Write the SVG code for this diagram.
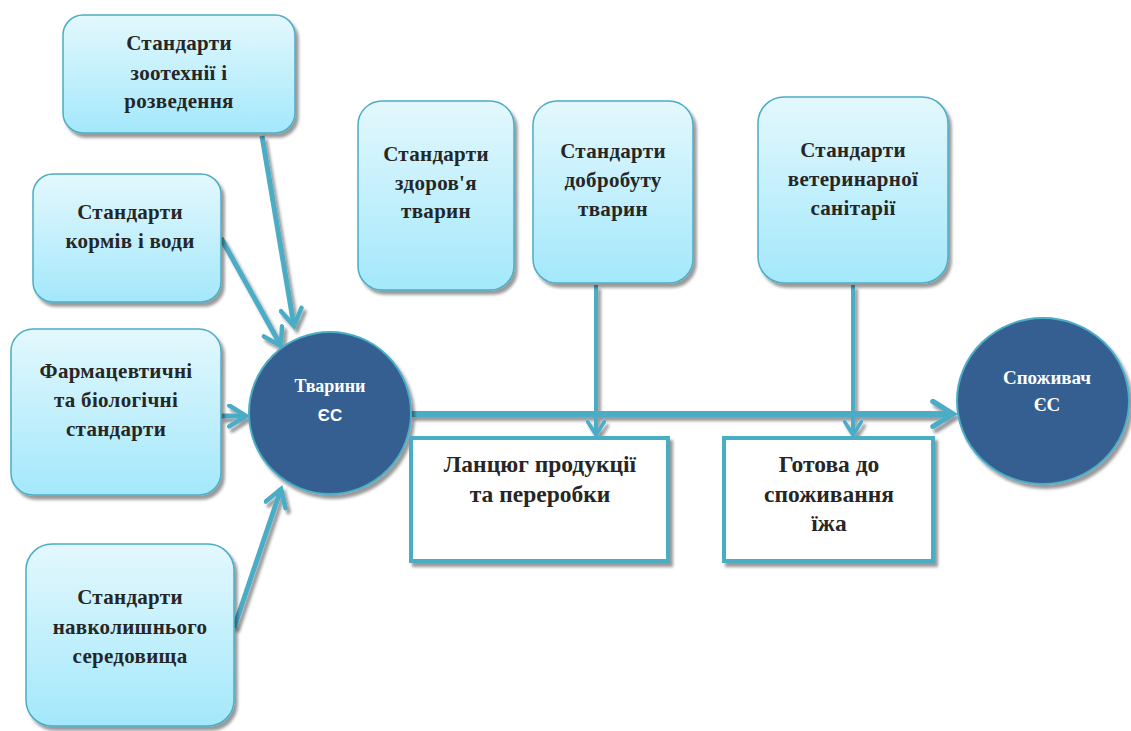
<svg xmlns="http://www.w3.org/2000/svg" width="1131" height="731" viewBox="0 0 1131 731">
<defs>
<linearGradient id="g" x1="0" y1="0" x2="0" y2="1">
<stop offset="0" stop-color="#e3f8fd"/>
<stop offset="1" stop-color="#a3e8fb"/>
</linearGradient>
<filter id="sh" x="-10%" y="-10%" width="130%" height="130%">
<feDropShadow dx="3" dy="4" stdDeviation="1.5" flood-color="#000" flood-opacity="0.4"/>
</filter>
<marker id="ah" viewBox="0 0 12 12" refX="10" refY="6" markerWidth="5" markerHeight="5" orient="auto" markerUnits="strokeWidth">
<path d="M2,1 L10,6 L2,11" fill="none" stroke="#4bacc6" stroke-width="2.2" stroke-linecap="round" stroke-linejoin="miter"/>
</marker>
<style>
.box{fill:url(#g);stroke:#4bacc6;stroke-width:1.5;filter:url(#sh)}
.t{font-family:"Liberation Serif","Times New Roman",serif;font-weight:bold;font-size:21px;letter-spacing:0.3px;fill:#262626;text-anchor:middle}
.tb{font-family:"Liberation Serif","Times New Roman",serif;font-weight:bold;font-size:23.5px;fill:#262626;text-anchor:middle}
.circ{fill:#355f91;stroke:#4bacc6;stroke-width:2;filter:url(#sh)}
.ct{font-family:"Liberation Serif","Times New Roman",serif;font-weight:bold;font-size:18px;fill:#ffffff;text-anchor:middle}
.cs{font-family:"Liberation Sans",Arial,sans-serif;font-weight:bold;font-size:17px;fill:#ffffff;text-anchor:middle}
.rect{fill:#ffffff;stroke:#4bacc6;stroke-width:4;filter:url(#sh)}
.c{fill:none;stroke:#4bacc6;stroke-width:5;marker-end:url(#ah)}
</style>
</defs>
<rect width="1131" height="731" fill="#ffffff"/>

<g id="connectors" filter="url(#sh)">
<line class="c" x1="262" y1="136" x2="294" y2="326"/>
<line class="c" x1="221" y1="238" x2="281" y2="346"/>
<line class="c" x1="221" y1="416" x2="246" y2="416"/>
<line class="c" x1="234" y1="628" x2="281" y2="489"/>
<line class="c" x1="411" y1="414" x2="953" y2="414" style="stroke-width:6"/>
<line class="c" x1="596" y1="285" x2="596" y2="435" style="stroke-width:4"/>
<line class="c" x1="853" y1="285" x2="853" y2="435" style="stroke-width:4"/>
</g>

<g id="n-zoo">
<rect class="box" x="63" y="15" width="232" height="118" rx="20"/>
<text class="t" x="179" y="50">Стандарти</text>
<text class="t" x="179" y="80">зоотехнії і</text>
<text class="t" x="179" y="108">розведення</text>
</g>
<g id="n-feed">
<rect class="box" x="33" y="174" width="188" height="128" rx="20"/>
<text class="t" x="130" y="219">Стандарти</text>
<text class="t" x="130" y="248">кормів і води</text>
</g>
<g id="n-pharma">
<rect class="box" x="11" y="329" width="210" height="166" rx="22"/>
<text class="t" x="116" y="378">Фармацевтичні</text>
<text class="t" x="116" y="407">та біологічні</text>
<text class="t" x="116" y="436">стандарти</text>
</g>
<g id="n-env">
<rect class="box" x="26" y="544" width="208" height="182" rx="26"/>
<text class="t" x="130" y="604">Стандарти</text>
<text class="t" x="130" y="634">навколишнього</text>
<text class="t" x="130" y="663">середовища</text>
</g>
<g id="n-health">
<rect class="box" x="358" y="101" width="156" height="189" rx="24"/>
<text class="t" x="436" y="161">Стандарти</text>
<text class="t" x="436" y="190">здоров'я</text>
<text class="t" x="436" y="218">тварин</text>
</g>
<g id="n-welfare">
<rect class="box" x="533" y="101" width="160" height="182" rx="24"/>
<text class="t" x="613" y="158">Стандарти</text>
<text class="t" x="613" y="187">добробуту</text>
<text class="t" x="613" y="216">тварин</text>
</g>
<g id="n-vet">
<rect class="box" x="758" y="97" width="190" height="186" rx="26"/>
<text class="t" x="853" y="157">Стандарти</text>
<text class="t" x="853" y="186">ветеринарної</text>
<text class="t" x="853" y="215">санітарії</text>
</g>
<g id="n-animals">
<circle class="circ" cx="330" cy="413" r="81"/>
<text class="ct" x="330" y="392">Тварини</text>
<text class="cs" x="330" y="421">ЄС</text>
</g>
<g id="n-consumer">
<ellipse class="circ" cx="1043" cy="401" rx="86" ry="83"/>
<text class="ct" x="1047" y="384" style="font-size:19px">Споживач</text>
<text class="ct" x="1047" y="411" style="font-size:19px">ЄС</text>
</g>
<g id="n-chain">
<rect class="rect" x="411" y="438" width="257" height="123"/>
<text class="tb" x="540" y="472">Ланцюг продукції</text>
<text class="tb" x="540" y="502">та переробки</text>
</g>
<g id="n-food">
<rect class="rect" x="724" y="438" width="209" height="123"/>
<text class="tb" x="829" y="472">Готова до</text>
<text class="tb" x="829" y="502">споживання</text>
<text class="tb" x="829" y="531">їжа</text>
</g>
</svg>
